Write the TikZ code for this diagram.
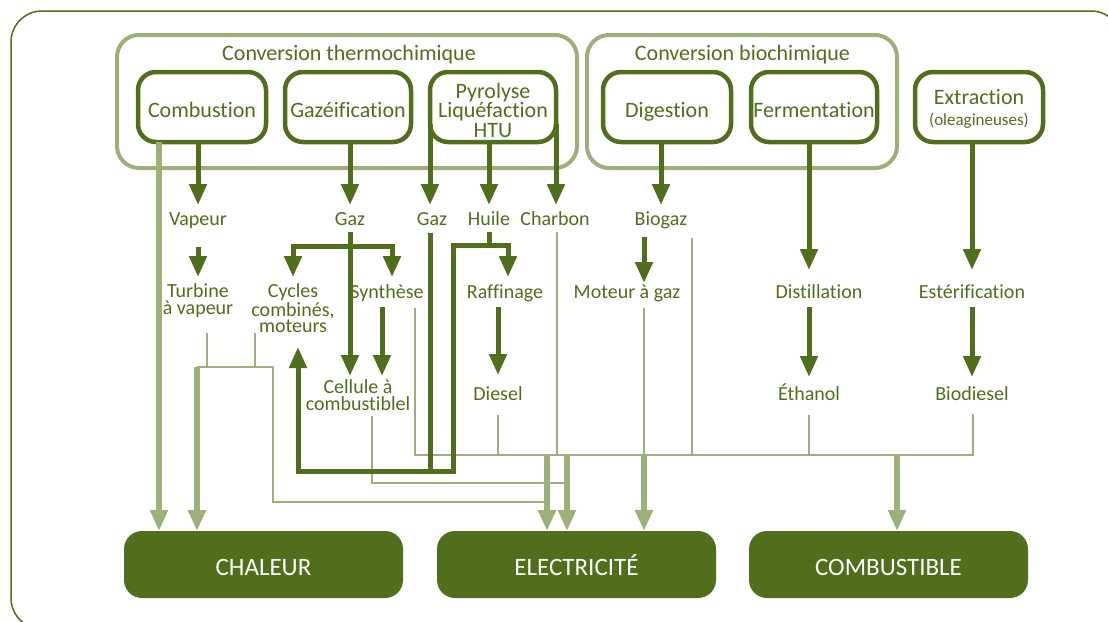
\documentclass[tikz,border=0pt]{standalone}
\usepackage{fontspec}
\setmainfont{Carlito}[Ligatures={NoCommon}]
\usetikzlibrary{arrows.meta,calc}
\definecolor{dkg}{RGB}{80,110,28}
\definecolor{ltg}{RGB}{157,176,122}
\newcommand\fsz[2]{\fontsize{#1}{#2}\selectfont}

\begin{document}
\begin{tikzpicture}[x=1pt,y=-1pt,
  grp/.style={draw=ltg,line width=4pt,rounded corners=22pt,inner sep=0pt,outer sep=0pt},
  proc/.style={draw=dkg,line width=4.5pt,rounded corners=18pt,text=dkg,align=center,
    inner sep=0pt,outer sep=0pt,minimum height=70pt,font=\fsz{22}{19.5}},
  one/.style={text height=20pt,text depth=0pt},
  ptxt/.style={text=dkg,align=center,inner sep=0pt,font=\fsz{22}{19.5}},
  res/.style={fill=dkg,rounded corners=18pt,text=white,inner sep=0pt,outer sep=0pt,
    minimum width=279pt,minimum height=67pt,text height=21pt,text depth=0pt,
    font=\fsz{25}{25}},
  ttl/.style={text=dkg,inner sep=0pt,font=\fsz{22}{22}},
  lbl/.style={text=dkg,inner sep=0pt,outer sep=0pt,anchor=base,text height=14pt,
    text depth=5pt,font=\fsz{20}{16}},
  lblm/.style={text=dkg,inner sep=0pt,outer sep=0pt,anchor=north,align=center,
    font=\fsz{20}{17}},
  darr/.style={draw=dkg,line width=5pt,-{Triangle[length=21pt,width=17pt]}},
  dline/.style={draw=dkg,line width=5pt},
  larr/.style={draw=ltg,line width=6pt,-{Triangle[length=21pt,width=17pt]}},
  thin/.style={draw=ltg,line width=2pt},
]
\useasboundingbox (0,0) rectangle (1108,621);
\clip (0,0) rectangle (1108,621);

% outer frame
\draw[dkg,line width=1.5pt,rounded corners=31pt] (11,11) rectangle (1122,629);

% conversion groups
\node[grp,minimum width=460pt,minimum height=133pt] (thermo) at (347,101.5) {};
\node[grp,minimum width=310pt,minimum height=133pt] (bio) at (742,101.5) {};
\node[ttl] (thermoT) at (349,55) {Conversion thermochimique};
\node[ttl] (bioT) at (742.5,55) {Conversion biochimique};

% processes
\node[proc,one,minimum width=128pt] (comb) at (202,107) {Combustion};
\node[proc,one,minimum width=126pt] (gazf) at (348,107) {Gazéification};
\node[proc,minimum width=126pt] (pyro) at (493,107) {};
\node[ptxt] (pyroT) at (493,110) {Pyrolyse\\Liquéfaction\\HTU};
\node[proc,one,minimum width=128pt] (dig) at (667,107) {Digestion};
\node[proc,one,minimum width=126pt] (ferm) at (814,107) {Fermentation};
\node[proc,minimum width=128pt] (extr) at (979,107) {};
\node[ptxt] (extrT) at (979,109) {Extraction\\[1pt]{\fsz{17}{17}(oleagineuses)}};

% intermediate products and steps
\node[lbl] (vap) at (198,225) {Vapeur};
\node[lbl] (gaz1) at (350,225) {Gaz};
\node[lbl] (gaz2) at (432,225) {Gaz};
\node[lbl] (huile) at (489,225) {Huile};
\node[lbl] (charb) at (555,225) {Charbon};
\node[lbl] (biog) at (661,225) {Biogaz};

\node[lblm] (turb) at (198,284) {Turbine\\à vapeur};
\node[lblm,font=\fsz{20}{16.3}] (cyc) at (293,284) {Cycles\\combinés,\\moteurs};
\node[lbl] (synth) at (387,298) {Synthèse};
\node[lbl] (raff) at (505,298) {Raffinage};
\node[lbl] (mot) at (627,298) {Moteur à gaz};
\node[lbl] (dist) at (819,298) {Distillation};
\node[lbl] (ester) at (972,298) {Estérification};

\node[lblm] (cell) at (358,380) {Cellule à\\combustiblel};
\node[lbl] (dies) at (498,400) {Diesel};
\node[lbl] (eth) at (809,400) {Éthanol};
\node[lbl] (biod) at (972,400) {Biodiesel};

% final uses
\node[res] (chal) at (263.5,564.5) {CHALEUR};
\node[res] (elec) at (576.5,564.5) {ELECTRICITÉ};
\node[res] (cmb) at (888.5,564.5) {COMBUSTIBLE};

% junction points of the collecting lines
\coordinate (tbA) at (207,333);
\coordinate (cyA) at (255,333);
\coordinate (busL) at (197,367);
\coordinate (busLe) at (273,367);
\coordinate (rtT) at (273,502);
\coordinate (elA) at (547,502);
\coordinate (elB) at (567,483);
\coordinate (syA) at (415,308);
\coordinate (bdA) at (973,414);
\coordinate (busM) at (0,455);
\coordinate (ceA) at (372,416);
\coordinate (moA) at (644,308);
\coordinate (cbA) at (897,455);
\coordinate (chA) at (159,142);

% thin collecting lines
\draw[thin] (tbA) -- (tbA |- busL);
\draw[thin] (cyA) -- (cyA |- busL);
\draw[thin] (busL) -- (busLe) -- (rtT) -- (elA);
\draw[thin] (syA) -- (syA |- busM) -- (bdA |- busM) -- (bdA);
\draw[thin] (ceA) -- (ceA |- elB) -- (elB);
\draw[thin] ($(dies.south)+(0,10)$) -- (dies.south |- busM);
\draw[thin] ($(charb.south)+(2,2)$) coordinate (chB) -- (chB |- busM);
\draw[thin] (moA) -- (moA |- busM);
\draw[thin] ($(biog.south east)+(5,8)$) coordinate (bgB) -- (bgB |- busM);
\draw[thin] ($(eth.south)+(0,10)$) -- (eth.south |- busM);

% arrows towards the final uses
\draw[larr] (chA) -- (chA |- chal.north);
\draw[larr] (busL) -- (busL |- chal.north);
\draw[larr] (elA |- busM) -- (elA |- elec.north);
\draw[larr] (elB |- busM) -- (elB |- elec.north);
\draw[larr] (moA |- busM) -- (moA |- elec.north);
\draw[larr] (cbA) -- (cbA |- cmb.north);

% process outputs
\coordinate (pyL) at (430,124);
\coordinate (pyR) at (556,124);
\draw[darr,shorten >=6pt] (comb.south -| vap.north) -- (vap.north);
\draw[darr,shorten >=6pt] (gazf.south -| gaz1.north) -- (gaz1.north);
\draw[darr,shorten >=6pt] (pyL) -- (pyL |- gaz2.north);
\draw[darr,shorten >=6pt] (pyro.south -| huile.north) -- (huile.north);
\draw[darr,shorten >=6pt] (pyR) -- (pyR |- charb.north);
\draw[darr,shorten >=6pt] (dig.south -| biog.north) -- (biog.north);
\draw[darr,shorten >=14pt] (ferm.south -| eth.north) -- (eth.north |- dist.north);
\draw[darr,shorten >=14pt] (extr.south -| ester.north) -- (ester.north);

% second stage
\draw[darr,shorten <=17pt,shorten >=7pt] (vap.south) -- (turb.north);

\coordinate (gzJ) at (350,246);
\coordinate (synIn) at (392,277);
\draw[darr,shorten <=2pt,shorten >=4pt] (gaz1.south) -- (gaz1.south |- cell.north);
\draw[darr,shorten >=7pt] (gzJ) -| (cyc.north);
\draw[darr] (gzJ) -| (synIn);

\coordinate (synOut) at (382,307);
\draw[darr,shorten >=4pt] (synOut) -- (synOut |- cell.north);

\coordinate (hJ) at (489,245);
\coordinate (rafIn) at (508,277);
\coordinate (loopR) at (453,471);
\coordinate (cycUp) at (298,347);
\draw[dline,shorten <=2pt] (huile.south) -- (hJ);
\draw[darr] (hJ) -| (rafIn);
\draw[darr] (hJ) -| (loopR) -| (cycUp);
\draw[dline,shorten <=3pt] (pyL |- gaz2.south) -- (pyL |- loopR);

\draw[darr,shorten <=4pt,shorten >=11pt] (raff.south -| dies.north) -- (dies.north);
\draw[darr,shorten <=7pt,shorten >=1pt] (moA |- biog.south) -- (moA |- mot.north);
\draw[darr,shorten <=4pt,shorten >=9pt] (dist.south -| eth.north) -- (eth.north);
\draw[darr,shorten <=4pt,shorten >=9pt] (ester.south) -- (biod.north);
\end{tikzpicture}
\end{document}
